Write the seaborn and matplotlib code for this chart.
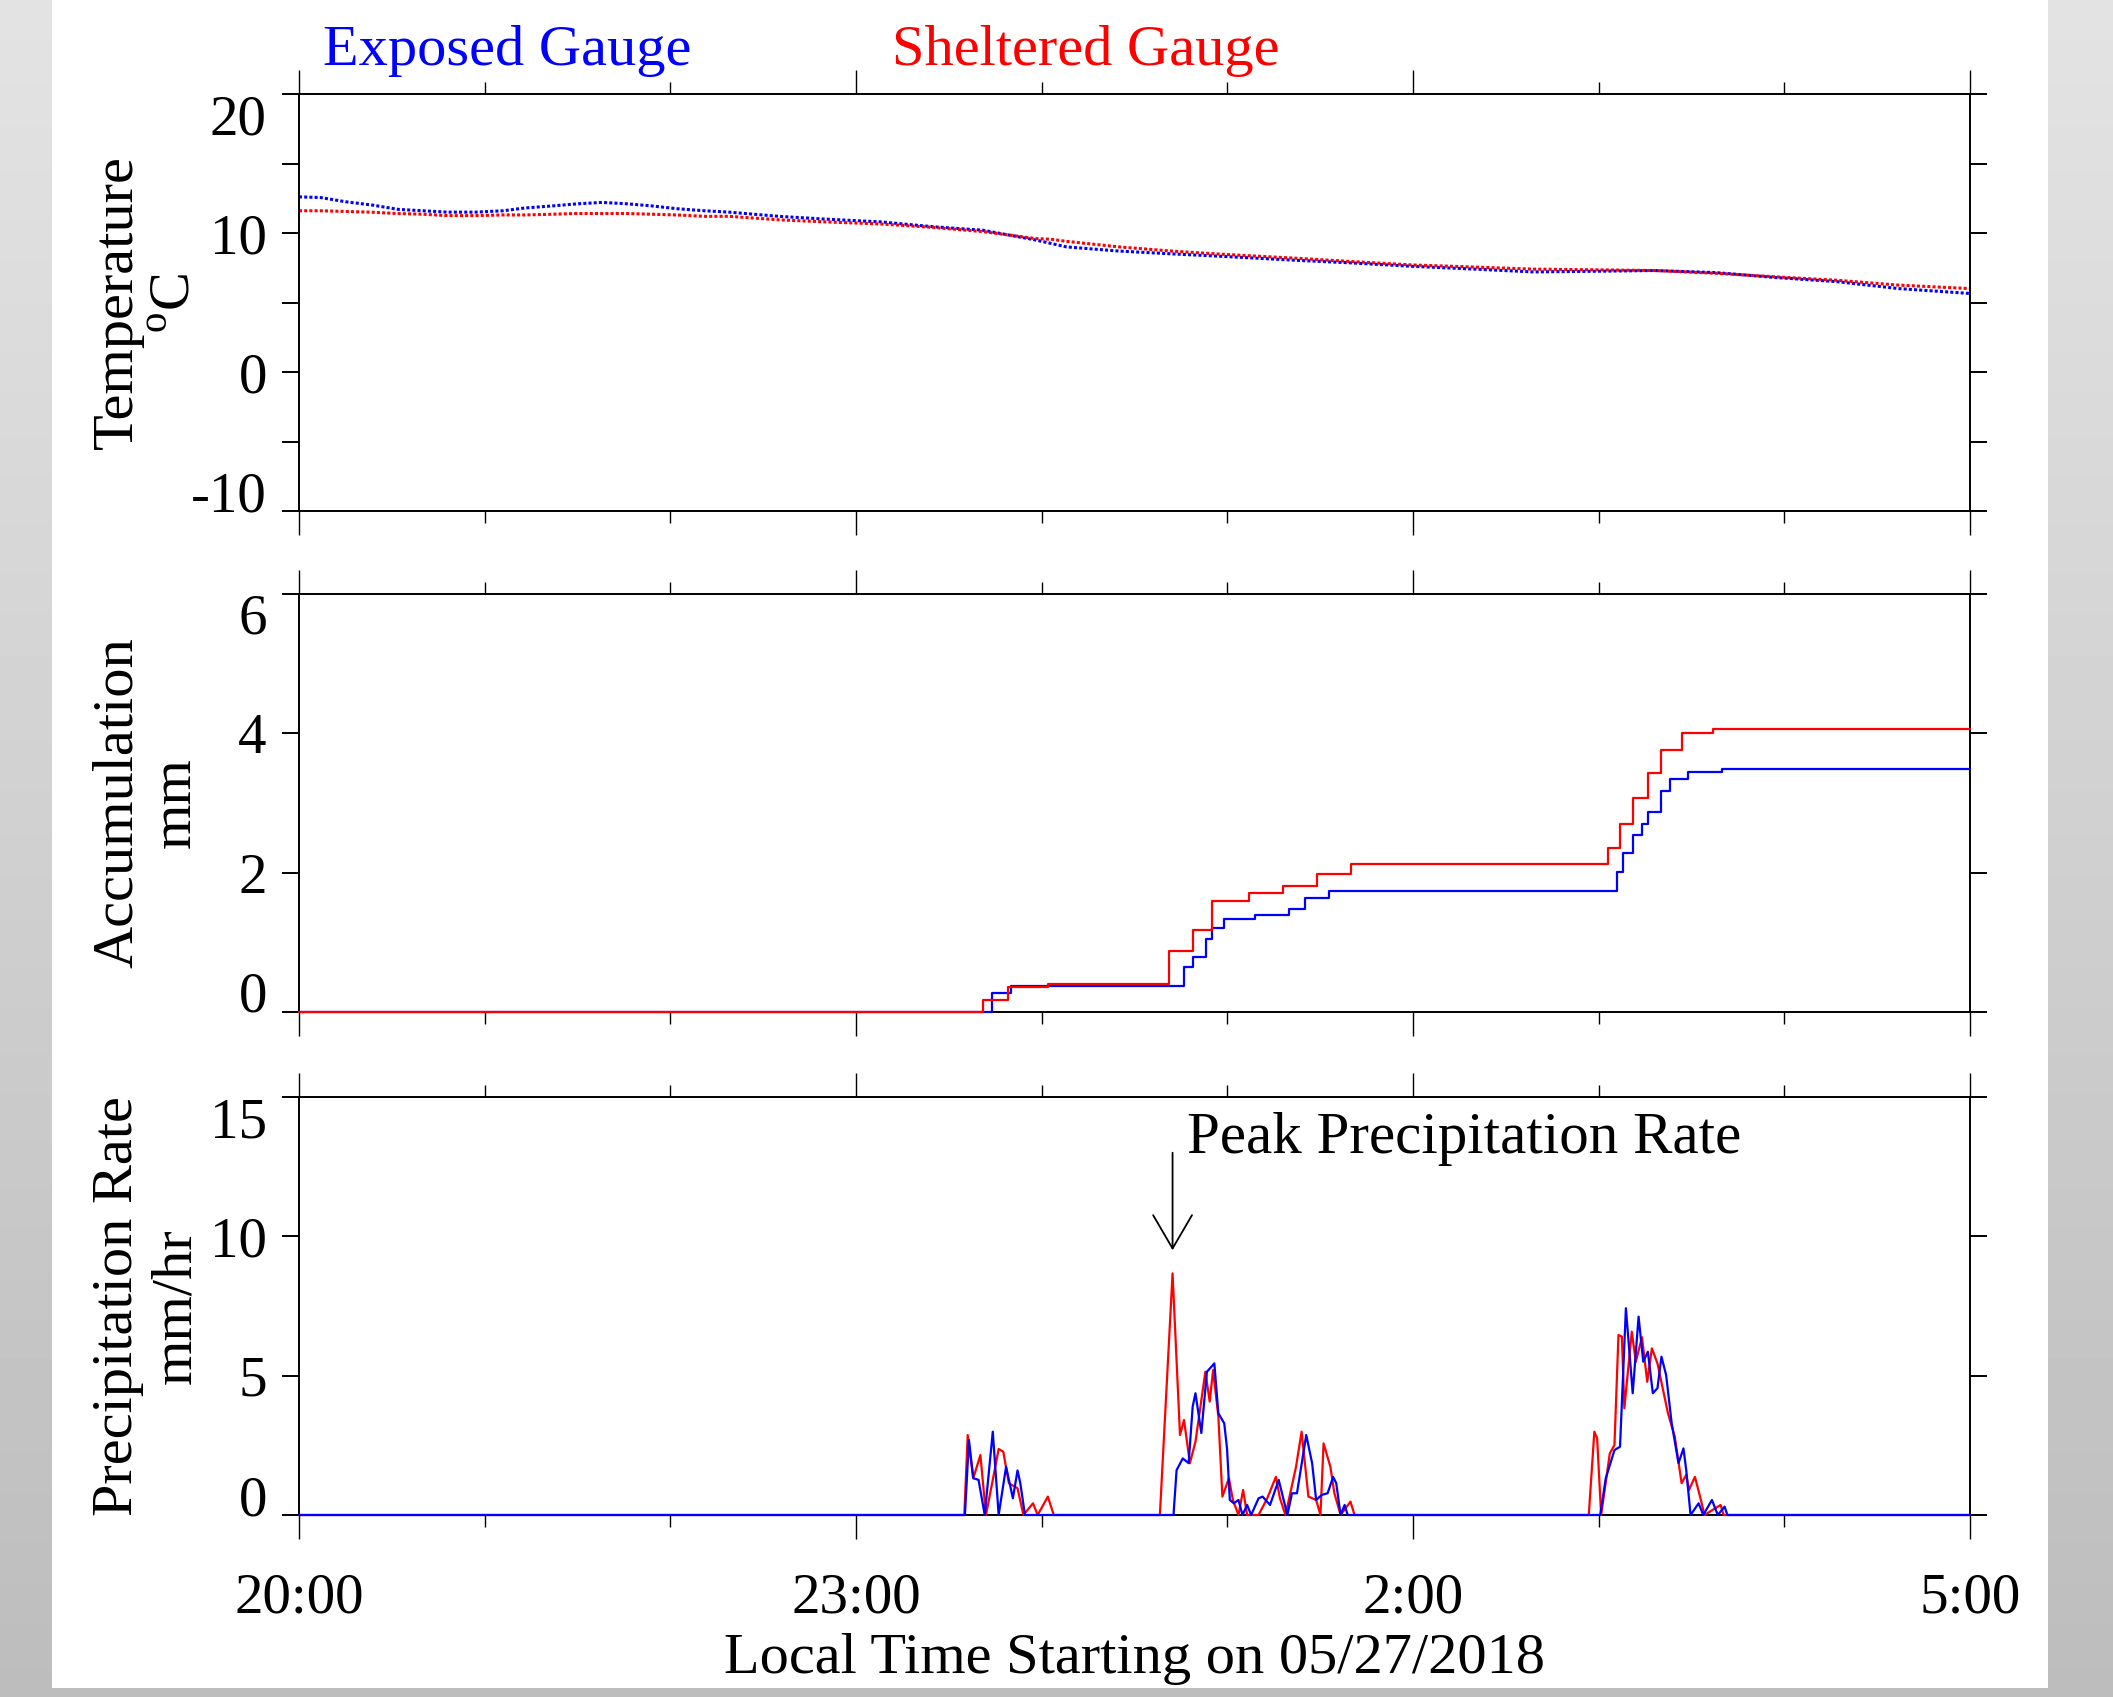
import numpy as np
import seaborn as sns
import matplotlib.pyplot as plt
from matplotlib.patches import Rectangle
from matplotlib.ticker import FixedLocator, NullFormatter

# time axis: minutes after 20:00 on 05/27/2018
hour_ticks = [0, 180, 360, 540]
hour_labels = ['20:00', '23:00', '2:00', '5:00']
minor_hours = [60, 120, 240, 300, 420, 480]

# temperature (deg C)
temp_t_exposed = [0, 7, 15, 24, 32, 40, 48, 57, 66, 73, 82, 90, 98, 106, 114, 122, 131, 139,
                  155, 170, 188, 205, 221, 238, 248, 265, 282, 300, 321, 340, 360, 380, 399,
                  420, 438, 458, 477, 497, 517, 540]
temp_exposed = [12.6, 12.55, 12.25, 12.0, 11.7, 11.6, 11.5, 11.5, 11.6, 11.8, 11.95, 12.1, 12.2,
                12.1, 11.95, 11.75, 11.6, 11.5, 11.2, 11.0, 10.8, 10.45, 10.2, 9.5, 9.0, 8.7,
                8.5, 8.3, 8.05, 7.85, 7.6, 7.4, 7.2, 7.25, 7.3, 7.15, 6.8, 6.5, 6.0, 5.65]
temp_t_sheltered = [0, 7, 15, 23, 32, 40, 48, 57, 66, 73, 82, 89, 98, 106, 114, 122, 131, 139,
                    155, 170, 188, 205, 221, 238, 243, 248, 265, 282, 300, 321, 340, 360, 380,
                    399, 420, 438, 458, 477, 497, 517, 540]
temp_sheltered = [11.6, 11.6, 11.55, 11.5, 11.4, 11.35, 11.25, 11.25, 11.3, 11.3, 11.35, 11.4,
                  11.4, 11.4, 11.35, 11.3, 11.2, 11.2, 10.95, 10.8, 10.65, 10.4, 10.1, 9.6, 9.55,
                  9.4, 9.0, 8.7, 8.45, 8.2, 7.95, 7.7, 7.55, 7.4, 7.35, 7.3, 7.1, 6.85, 6.6,
                  6.25, 6.0]

# accumulation (mm), stepwise
acc_t_exposed = [0, 224, 230, 286, 289, 293, 295, 299, 309, 320, 325, 333, 426, 428, 431, 434,
                 436, 440, 443, 449, 460, 540]
acc_exposed = [0, 0.27, 0.38, 0.64, 0.79, 1.05, 1.21, 1.33, 1.39, 1.48, 1.63, 1.74, 2.01, 2.28,
               2.54, 2.70, 2.87, 3.17, 3.34, 3.45, 3.49, 3.49]
acc_t_sheltered = [0, 221, 229, 242, 281, 289, 295, 307, 318, 329, 340, 423, 427, 431, 436,
                   440, 447, 457, 540]
acc_sheltered = [0, 0.17, 0.36, 0.40, 0.88, 1.17, 1.60, 1.71, 1.81, 1.98, 2.12, 2.36, 2.70,
                 3.07, 3.43, 3.76, 4.00, 4.06, 4.06]

# precipitation rate (mm/hr)
rate_t_sheltered = [0, 215.0, 216.1, 217.9, 220.2, 222.0, 224.2, 226.1, 227.6, 229.4, 232.2,
                    234.1, 237.2, 238.7, 242.0, 243.9, 278.2, 282.3, 284.7, 286.0, 287.9, 289.7,
                    292.9, 294.3, 295.4, 297.1, 298.4, 300.5, 301.8, 303.6, 305.1, 306.4, 310.1,
                    312.9, 315.7, 317.0, 318.8, 322.2, 324.0, 326.2, 328.7, 330.1, 331.1, 333.3,
                    334.6, 336.6, 339.8, 341.1, 416.8, 418.6, 419.5, 420.8, 423.6, 425.1, 426.4,
                    427.5, 428.3, 430.7, 432.0, 434.0, 435.7, 437.2, 439.0, 442.4, 444.6, 446.8,
                    448.3, 449.2, 451.1, 452.9, 454.2, 459.4, 460.4, 540]
rate_sheltered = [0, 0, 2.87, 1.32, 2.15, 0, 1.26, 2.37, 2.27, 1.14, 0.96,
                  0, 0.42, 0, 0.66, 0, 0, 8.67, 2.87, 3.41, 1.86, 2.63,
                  5.14, 4.07, 5.2, 3.53, 0.66, 1.32, 0.54, 0, 0.9, 0, 0,
                  0.6, 1.37, 0.6, 0, 1.73, 2.99, 0.66, 0.54, 0, 2.57, 1.73,
                  0.78, 0, 0.48, 0, 0, 2.99, 2.75, 0, 2.21, 2.51, 6.46,
                  6.40, 3.83, 6.58, 5.5, 6.38, 4.78, 5.98, 5.44, 3.65, 2.81, 1.14,
                  1.44, 0.9, 1.37, 0.6, 0, 0.36, 0, 0]
rate_t_exposed = [0, 215.2, 216.5, 217.9, 219.6, 221.6, 224.2, 226.1, 228.5, 230.7, 232.2,
                  233.1, 234.6, 282.6, 283.6, 285.6, 287.5, 288.8, 289.7, 291.6, 293.4, 295.8,
                  297.1, 299.0, 299.9, 300.8, 302.1, 303.6, 304.9, 306.4, 307.7, 310.1, 311.4,
                  313.8, 316.6, 319.4, 320.9, 322.5, 325.5, 327.4, 328.7, 330.5, 332.4, 334.2,
                  335.2, 336.6, 337.9, 338.9, 420.5, 422.3, 425.1, 426.9, 428.8, 431.0, 432.9,
                  434.4, 435.9, 437.5, 439.0, 440.3, 441.8, 443.6, 445.8, 447.4, 448.3, 449.7,
                  452.3, 453.8, 456.6, 458.5, 460.7, 461.6, 540]
rate_exposed = [0, 0, 2.69, 1.32, 1.26, 0, 2.99, 0, 1.73, 0.6, 1.6,
                1.14, 0, 0, 1.61, 2.03, 1.86, 3.89, 4.37, 2.94, 5.14, 5.44,
                3.65, 3.29, 2.39, 0.54, 0.42, 0.54, 0, 0.36, 0, 0.6, 0.66,
                0.36, 1.26, 0, 0.78, 0.78, 2.87, 1.86, 0.54, 0.72, 0.78, 1.37,
                1.14, 0, 0.36, 0, 0, 1.32, 2.33, 2.45, 7.42, 4.37, 7.12,
                5.5, 5.86, 4.37, 4.55, 5.68, 5.02, 3.29, 1.86, 2.39, 1.61, 0,
                0.42, 0, 0.54, 0, 0.3, 0, 0]

BLUE = '#0000ff'
RED = '#ff0000'

sns.set_style("ticks")
plt.rcParams.update({
    'font.family': ['Liberation Serif', 'DejaVu Serif'],
    'mathtext.fontset': 'custom',
    'mathtext.rm': 'Liberation Serif',
    'axes.unicode_minus': False,
    'font.size': 42,
    'text.color': 'black',
    'axes.labelcolor': 'black',
    'axes.linewidth': 1.4,
    'axes.edgecolor': 'black',
    'axes.facecolor': 'white',
    'xtick.color': 'black',
    'ytick.color': 'black',
    'xtick.labelsize': 41,
    'ytick.labelsize': 41,
})

fig = plt.figure(figsize=(21.13, 16.97), dpi=100)

# grey gradient frame with white page
bg = fig.add_axes([0, 0, 1, 1], zorder=-10)
grad = np.linspace(0.74, 0.89, 256).reshape(-1, 1)
bg.imshow(grad, aspect='auto', cmap='gray', vmin=0, vmax=1, extent=[0, 1, 0, 1], origin='lower')
bg.add_patch(Rectangle((52 / 2113, 1 - 1688 / 1697), 1996 / 2113, 1688 / 1697,
                       transform=bg.transAxes, facecolor='white', edgecolor='none'))
bg.set_xlim(0, 1)
bg.set_ylim(0, 1)
bg.axis('off')

left, width = 299 / 2113, 1671 / 2113
ax1 = fig.add_axes([left, 1 - 511 / 1697, width, 417 / 1697])
ax2 = fig.add_axes([left, 1 - 1012 / 1697, width, 418 / 1697])
ax3 = fig.add_axes([left, 1 - 1515 / 1697, width, 418 / 1697])

# temperature
sns.lineplot(x=temp_t_exposed, y=temp_exposed, ax=ax1, color=BLUE, lw=2.2,
             linestyle=(0, (1, 0.7)), estimator=None, sort=False)
sns.lineplot(x=temp_t_sheltered, y=temp_sheltered, ax=ax1, color=RED, lw=2.2,
             linestyle=(0, (1, 0.7)), estimator=None, sort=False)
ax1.set_ylim(-10, 20)
ax1.yaxis.set_major_locator(FixedLocator([-10, 0, 10, 20]))
ax1.yaxis.set_minor_locator(FixedLocator([-5, 5, 15]))
ax1.set_ylabel('Temperature\n$^{\\mathrm{o}}$C')

# accumulation
sns.lineplot(x=acc_t_exposed, y=acc_exposed, ax=ax2, color=BLUE, lw=1.6,
             drawstyle='steps-post', estimator=None, sort=False, clip_on=False, zorder=3)
sns.lineplot(x=acc_t_sheltered, y=acc_sheltered, ax=ax2, color=RED, lw=1.6,
             drawstyle='steps-post', estimator=None, sort=False, clip_on=False, zorder=3)
ax2.set_ylim(0, 6)
ax2.yaxis.set_major_locator(FixedLocator([0, 2, 4, 6]))
ax2.set_ylabel('Accumulation\nmm')

# precipitation rate
sns.lineplot(x=rate_t_sheltered, y=rate_sheltered, ax=ax3, color=RED, lw=1.6,
             estimator=None, sort=False, clip_on=False, zorder=3)
sns.lineplot(x=rate_t_exposed, y=rate_exposed, ax=ax3, color=BLUE, lw=1.6,
             estimator=None, sort=False, clip_on=False, zorder=3)
ax3.set_ylim(0, 15)
ax3.yaxis.set_major_locator(FixedLocator([0, 5, 10, 15]))
ax3.set_ylabel('Precipitation Rate\nmm/hr')

i_peak = int(np.argmax(rate_sheltered))
t_peak = rate_t_sheltered[i_peak]
ax3.annotate('', xy=(t_peak, 9.5), xytext=(t_peak, 13.0),
             arrowprops=dict(arrowstyle='->,head_length=1.2,head_width=0.7',
                             mutation_scale=20, lw=1.3, color='black',
                             shrinkA=0, shrinkB=0))
ax3.text(t_peak + 4.8, 13.0, 'Peak Precipitation Rate', fontsize=42.5, color='black',
         ha='left', va='baseline')

for ax in (ax1, ax2, ax3):
    ax.set_xlim(0, 540)
    ax.xaxis.set_major_locator(FixedLocator(hour_ticks))
    ax.xaxis.set_minor_locator(FixedLocator(minor_hours))
    ax.tick_params(axis='x', which='both', direction='out', top=True, bottom=True, width=1.0)
    ax.tick_params(axis='x', which='major', length=17.5, pad=24)
    ax.tick_params(axis='x', which='minor', length=8.6)
    ax.tick_params(axis='y', which='both', direction='out', left=True, right=True,
                   length=12.2, width=1.4, pad=11)
    ax.yaxis.set_minor_formatter(NullFormatter())
    for s in ax.spines.values():
        s.set_visible(True)
        s.set_linewidth(1.4)
    ax.set_xlabel('')
    ax.yaxis.set_label_coords(-0.058, 0.5)
    ax.yaxis.label.set_linespacing(1.15)
    ticks = ax.yaxis.get_major_ticks()
    ticks[0].label1.set_va('baseline')
    ticks[-1].label1.set_va('top')

ax1.set_xticklabels([])
ax2.set_xticklabels([])
ax3.set_xticklabels(hour_labels)
ax3.set_xlabel('Local Time Starting on 05/27/2018')
ax3.xaxis.set_label_coords(0.5, -0.282)

fig.text(323 / 2113, 1 - 65 / 1697, 'Exposed Gauge', color=BLUE, fontsize=42,
         ha='left', va='baseline')
fig.text(892 / 2113, 1 - 65 / 1697, 'Sheltered Gauge', color=RED, fontsize=42,
         ha='left', va='baseline')

fig.savefig('out.png', dpi=100)
